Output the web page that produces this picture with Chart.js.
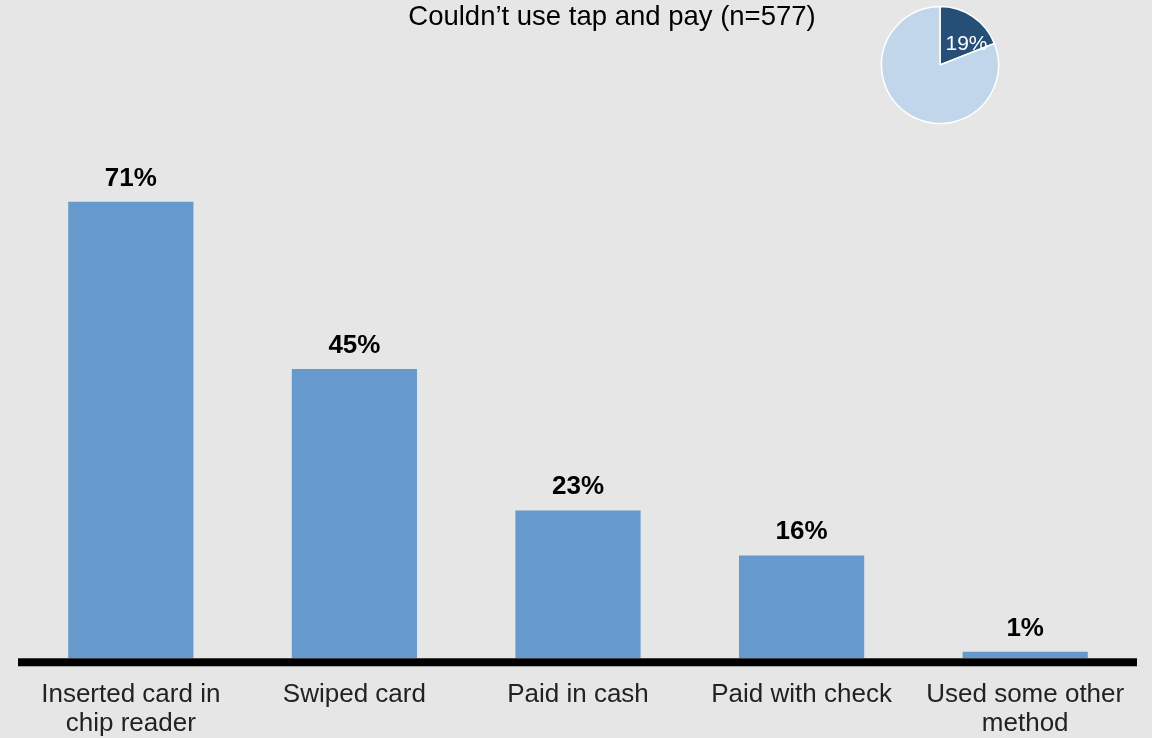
<!DOCTYPE html>
<html>
<head>
<meta charset="utf-8">
<script src="https://cdn.jsdelivr.net/npm/chart.js@4/dist/chart.umd.min.js"></script>
<style>
  html, body { margin: 0; padding: 0; background: #e6e6e6; }
  #wrap { position: relative; width: 1152px; height: 738px; overflow: hidden; background: #e6e6e6; }
  #bars { position: absolute; left: 0; top: 0; }
  #pieBox { position: absolute; left: 875px; top: 0px; width: 130px; height: 130px; }
</style>
</head>
<body>
<div id="wrap">
  <canvas id="bars" width="1152" height="760"></canvas>
  <div id="pieBox"><canvas id="pie" width="130" height="130"></canvas></div>
</div>
<script>
// Alternative payment methods used
const categories = [
  ['Inserted card in', 'chip reader'],
  'Swiped card',
  'Paid in cash',
  'Paid with check',
  ['Used some other', 'method']
];
const shares = [71, 45, 23, 16, 1];
const valueLabels = ['71%', '45%', '23%', '16%', '1%'];

// Share of respondents who could not use tap and pay
const pieLabels = ["Couldn't use tap and pay", 'Other'];
const pieValues = [19, 81];
const pieText = '19%';

const titleText = 'Couldn\u2019t use tap and pay (n=577)';
const FONT = '"Liberation Sans", Arial, Helvetica, sans-serif';

const barDecor = {
  id: 'barDecor',
  afterDatasetsDraw(chart) {
    const { ctx, chartArea, scales } = chart;
    const y0 = scales.y.getPixelForValue(0);
    ctx.save();
    // heavy baseline
    ctx.fillStyle = '#000';
    ctx.fillRect(chartArea.left - 1, y0, chartArea.right - chartArea.left + 1, 8);
    // value labels
    ctx.font = 'bold 26px ' + FONT;
    ctx.textAlign = 'center';
    ctx.textBaseline = 'alphabetic';
    ctx.fillStyle = '#000';
    chart.getDatasetMeta(0).data.forEach((bar, i) => {
      ctx.fillText(valueLabels[i], bar.x, bar.y - 16);
    });
    // heading
    ctx.font = '27.5px ' + FONT;
    ctx.fillStyle = '#000';
    ctx.fillText(titleText, 612, 25);
    ctx.restore();
  }
};

new Chart(document.getElementById('bars'), {
  type: 'bar',
  data: {
    labels: categories,
    datasets: [{
      data: shares,
      backgroundColor: '#6699cc',
      borderWidth: 0,
      barPercentage: 0.56,
      categoryPercentage: 1.0
    }]
  },
  options: {
    responsive: false,
    animation: false,
    layout: { padding: { top: 144, left: 19, right: 15, bottom: 0 } },
    plugins: { legend: { display: false }, tooltip: { enabled: false }, title: { display: false } },
    scales: {
      y: { display: false, min: 0, max: 80 },
      x: {
        grid: { display: false, drawTicks: false, tickLength: 0 },
        border: { display: false },
        ticks: {
          color: '#222',
          font: { family: FONT, size: 26, lineHeight: 1.11 },
          padding: 22,
          maxRotation: 0,
          autoSkip: false
        }
      }
    }
  },
  plugins: [barDecor]
});

const pieLabel = {
  id: 'pieLabel',
  afterDatasetsDraw(chart) {
    const arc = chart.getDatasetMeta(0).data[0];
    const a = arc.startAngle + 0.75 * (arc.endAngle - arc.startAngle);
    const r = arc.outerRadius * 0.58;
    const { ctx } = chart;
    ctx.save();
    ctx.font = '21px ' + FONT;
    ctx.fillStyle = '#fff';
    ctx.textAlign = 'center';
    ctx.textBaseline = 'middle';
    ctx.fillText(pieText, arc.x + r * Math.cos(a), arc.y + r * Math.sin(a));
    ctx.restore();
  }
};

new Chart(document.getElementById('pie'), {
  type: 'pie',
  data: {
    labels: pieLabels,
    datasets: [{
      data: pieValues,
      backgroundColor: ['#264f78', '#c1d6eb'],
      borderColor: '#ffffff',
      borderWidth: 1.5,
      hoverOffset: 0
    }]
  },
  options: {
    responsive: false,
    animation: false,
    radius: 58.5,
    layout: { padding: 0 },
    plugins: { legend: { display: false }, tooltip: { enabled: false } }
  },
  plugins: [pieLabel]
});
</script>
</body>
</html>
